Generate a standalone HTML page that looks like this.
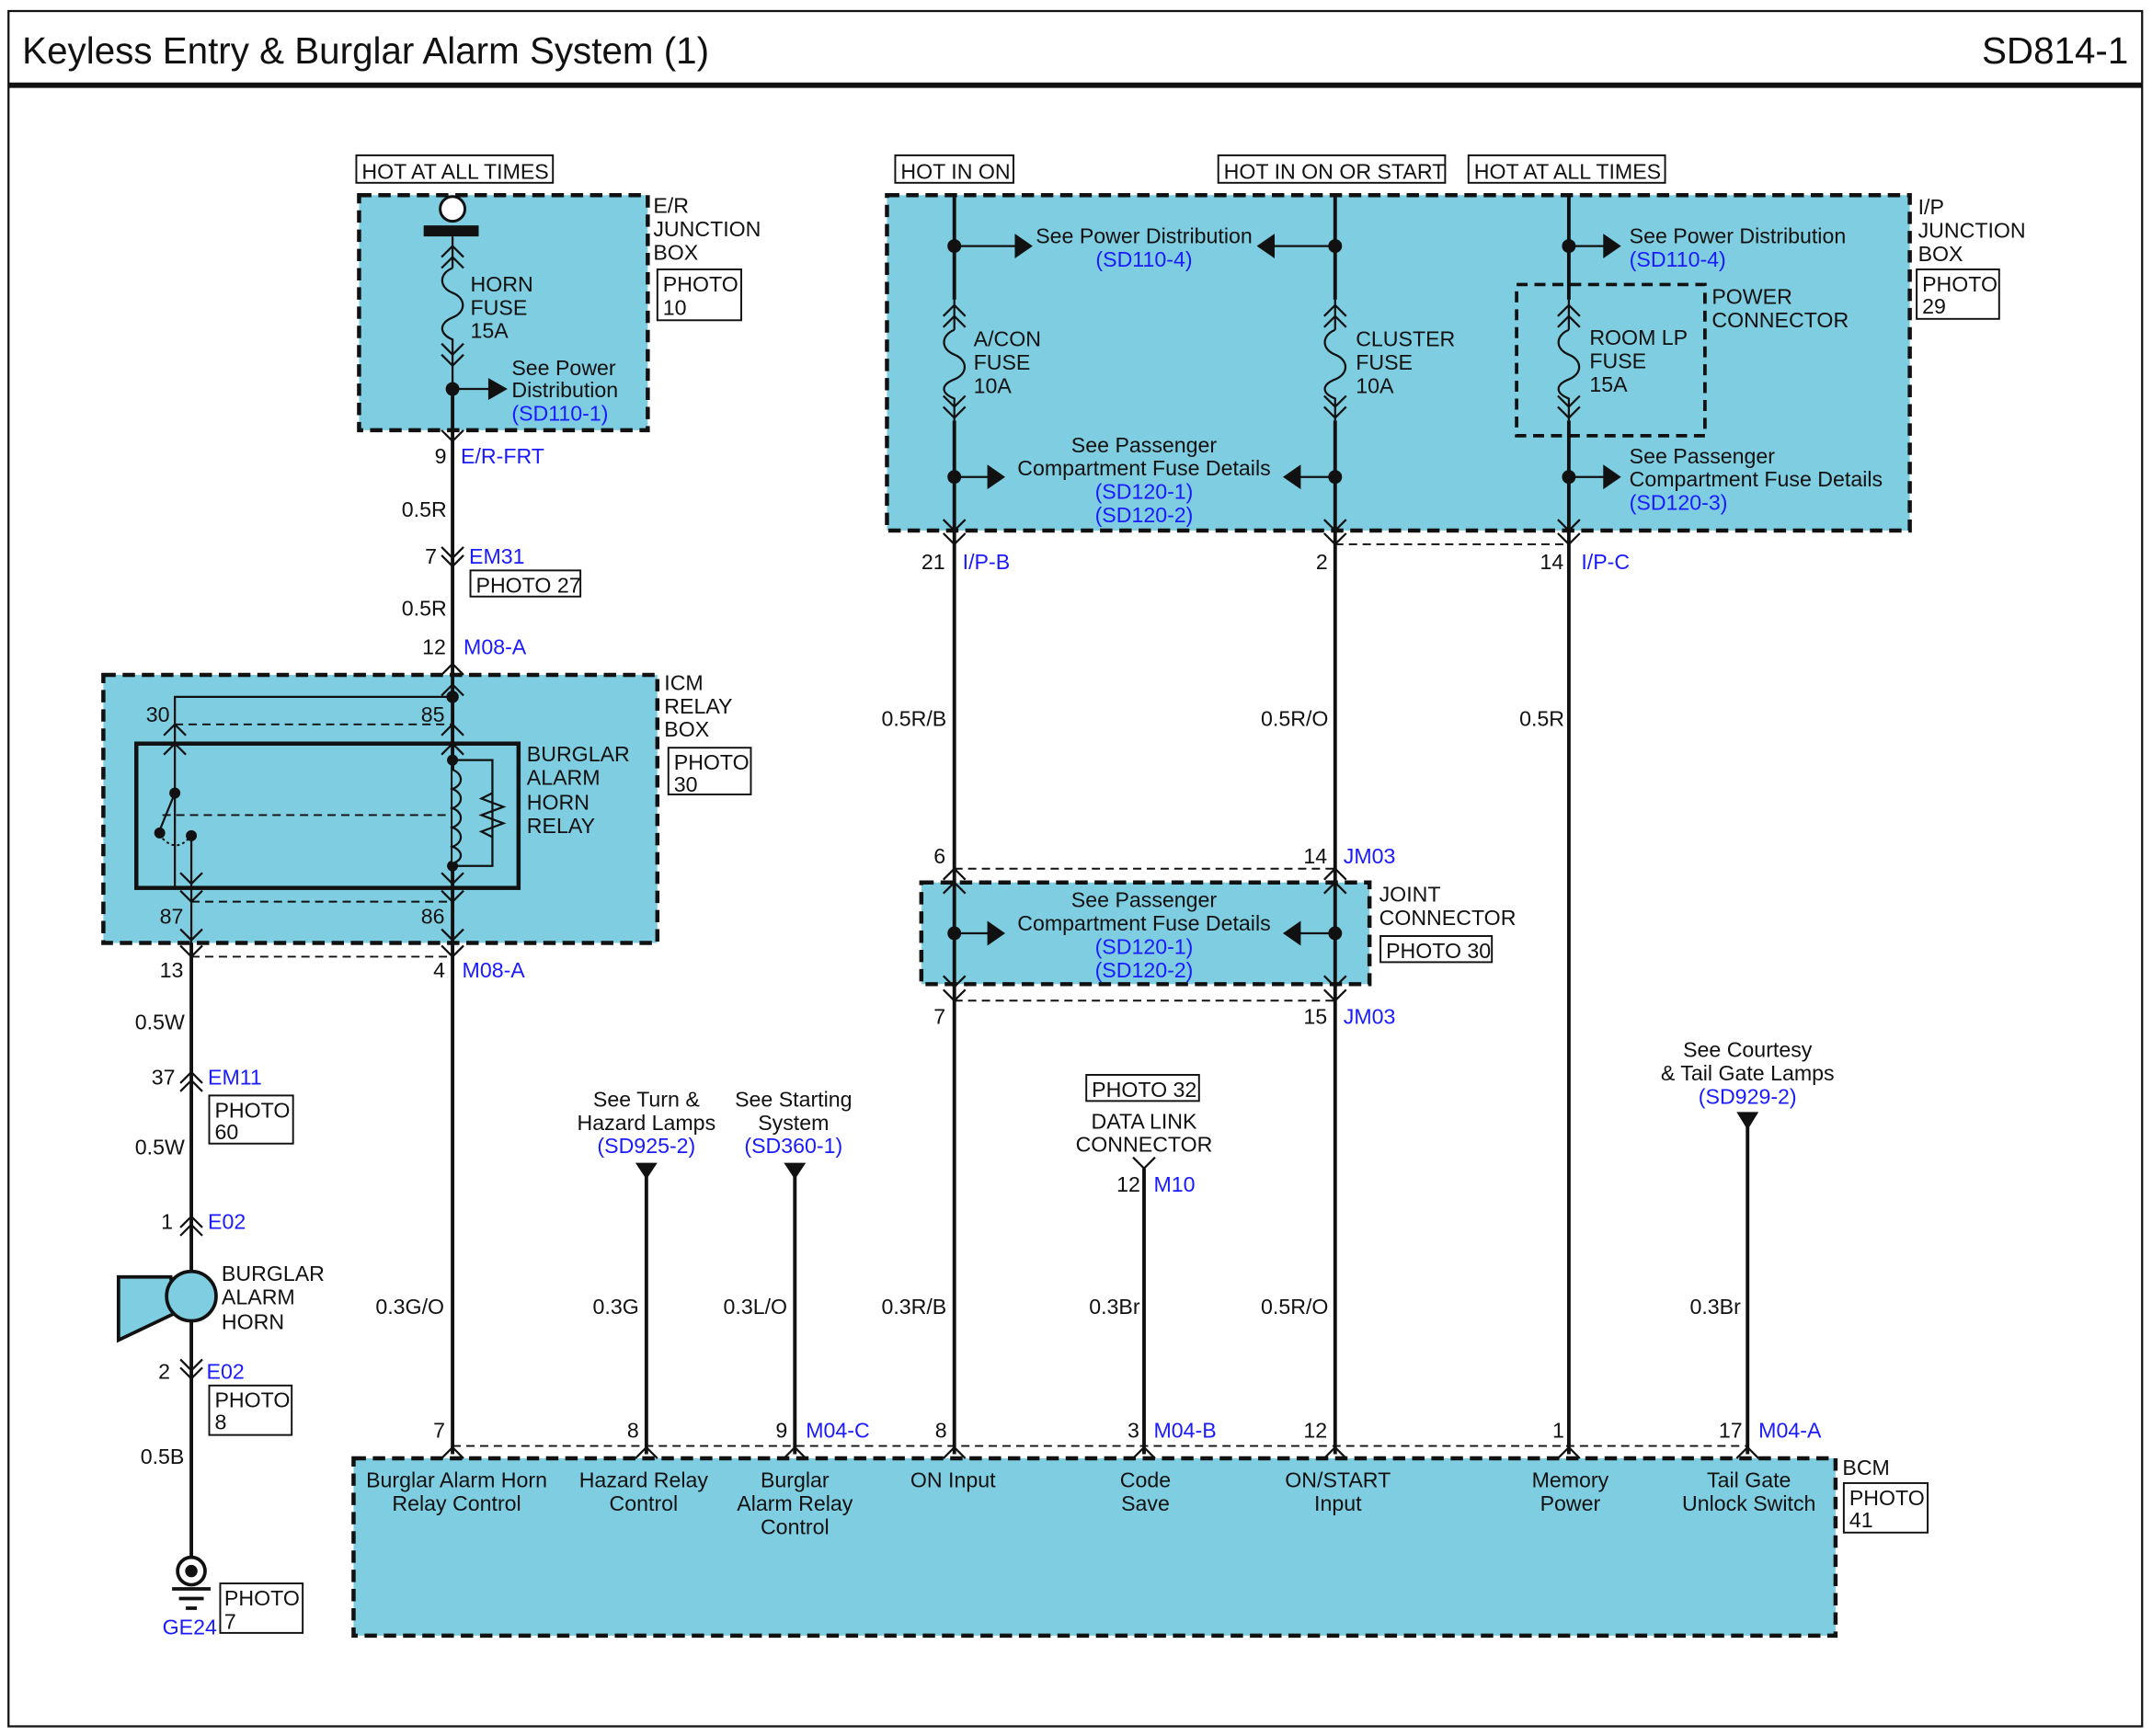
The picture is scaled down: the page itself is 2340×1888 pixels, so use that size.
<!DOCTYPE html>
<html><head><meta charset="utf-8"><style>
html,body{margin:0;padding:0;background:#fff}
svg{display:block}
text{font-family:"Liberation Sans",Arial,sans-serif;font-size:15.5px;fill:#111}
.b{fill:#1a1aff}
.box{fill:#7ecde0;stroke:#111;stroke-width:3;stroke-dasharray:9 5}
.w{stroke:#111;stroke-width:2.6;fill:none}
.t{stroke:#111;stroke-width:1.5;fill:none}
.d{stroke:#111;stroke-width:1.3;fill:none;stroke-dasharray:6 4}
.pb{fill:#fff;stroke:#111;stroke-width:1.3}
.pbn{fill:none;stroke:#111;stroke-width:1.3}
</style></head><body>
<svg width="2340" height="1888" viewBox="0 0 1565 1263" xmlns="http://www.w3.org/2000/svg">
<rect x="0" y="0" width="1565" height="1263" fill="#fff"/>
<!-- frame -->
<path d="M6 8 H1558 V1256 H6 Z" fill="none" stroke="#111" stroke-width="1.5"/>
<line x1="6" y1="62" x2="1558" y2="62" stroke="#111" stroke-width="4"/>
<text x="16" y="46" style="font-size:27px">Keyless Entry &amp; Burglar Alarm System (1)</text>
<text x="1548" y="46" text-anchor="end" style="font-size:27px">SD814-1</text>

<!-- boxes -->
<rect class="box" x="261" y="142" width="210" height="171"/>
<rect class="box" x="75" y="491" width="403" height="195"/>
<rect class="box" x="645" y="142" width="744" height="244"/>
<rect class="box" x="670" y="642" width="326" height="74"/>
<rect class="box" x="257" y="1061" width="1078" height="129"/>
<rect x="1103" y="207" width="137" height="110" fill="none" stroke="#111" stroke-width="2.5" stroke-dasharray="8 5"/>
<rect x="99" y="541" width="278" height="105" fill="none" stroke="#111" stroke-width="3"/>

<!-- HOT labels -->
<rect class="pb" x="259" y="113" width="143" height="20"/><text x="263" y="130">HOT AT ALL TIMES</text>
<rect class="pb" x="651" y="113" width="86" height="20"/><text x="655" y="130">HOT IN ON</text>
<rect class="pb" x="886" y="113" width="165" height="20"/><text x="890" y="130">HOT IN ON OR START</text>
<rect class="pb" x="1068" y="113" width="143" height="20"/><text x="1072" y="130">HOT AT ALL TIMES</text>

<!-- E/R junction box -->
<circle cx="329" cy="152" r="9" fill="#fff" stroke="#111" stroke-width="2"/>
<rect x="308" y="164" width="40" height="8" fill="#111"/>
<path class="t" d="M329 172 V195 M321 187 L329 179 L337 187 M321 195 L329 187 L337 195"/>
<path class="t" d="M329 195 c-10 4 -10 14 0 18 c10 4 10 14 0 18 c-10 4 -10 12 0 16 V283"/>
<path class="t" d="M321 250 L329 258 L337 250 M321 258 L329 266 L337 258"/>
<circle cx="329" cy="283" r="5" fill="#111"/>
<line class="t" x1="329" y1="283" x2="356" y2="283"/><path d="M355 275 L369 283 L355 291Z" fill="#111"/>
<text x="342" y="212">HORN</text><text x="342" y="229">FUSE</text><text x="342" y="246">15A</text>
<text x="372" y="273">See Power</text><text x="372" y="289">Distribution</text><text class="b" x="372" y="306">(SD110-1)</text>
<text x="475" y="155">E/R</text><text x="475" y="172">JUNCTION</text><text x="475" y="189">BOX</text>
<rect class="pb" x="478" y="196" width="61" height="37"/><text x="482" y="212">PHOTO</text><text x="482" y="229">10</text>

<!-- main wire x=329 -->
<line class="w" x1="329" y1="283" x2="329" y2="1058"/>
<path class="t" d="M321 313 L329 321 L337 313"/>
<text x="316" y="337">9</text><text class="b" x="335" y="337">E/R-FRT</text>
<text x="292" y="376">0.5R</text>
<path class="t" d="M321 398 L329 406 L337 398 M321 404 L329 412 L337 404"/>
<text x="309" y="410">7</text><text class="b" x="341" y="410">EM31</text>
<rect class="pb" x="342" y="415" width="80" height="19"/><text x="346" y="431">PHOTO 27</text>
<text x="292" y="448">0.5R</text>
<text x="307" y="476">12</text><text class="b" x="337" y="476">M08-A</text>
<path class="t" d="M321 491 L329 483 L337 491"/>

<!-- ICM relay -->
<text x="483" y="502">ICM</text><text x="483" y="519">RELAY</text><text x="483" y="536">BOX</text>
<rect class="pb" x="486" y="544" width="60" height="34"/><text x="490" y="560">PHOTO</text><text x="490" y="576">30</text>
<circle cx="329" cy="507" r="4.5" fill="#111"/>
<path class="t" d="M329 507 H127 V646"/>
<path class="t" d="M321 506 L329 498 L337 506 M119 535 L127 527 L135 535 M321 535 L329 527 L337 535 M119 549 L127 541 L135 549 M321 549 L329 541 L337 549"/>
<line class="d" x1="127" y1="527" x2="329" y2="527"/>
<text x="106" y="525">30</text><text x="306" y="525">85</text>
<circle cx="127" cy="577" r="4" fill="#111"/>
<line class="t" x1="127" y1="577" x2="116" y2="604"/>
<line class="d" x1="118" y1="593" x2="329" y2="593"/>
<circle cx="116" cy="606" r="4" fill="#111"/><circle cx="139" cy="608" r="4" fill="#111"/>
<path d="M118 610 q10 10 19 0" fill="none" stroke="#111" stroke-width="1.3" stroke-dasharray="2 2"/>
<line class="t" x1="139" y1="608" x2="139" y2="686"/>
<circle cx="329" cy="553" r="4" fill="#111"/><circle cx="329" cy="630" r="4" fill="#111"/>
<path class="t" d="M329 553 H358 V630 H329"/>
<path d="M329 560 c8 3 8 11 0 14 c8 3 8 11 0 14 c8 3 8 11 0 14 c8 3 8 11 0 14 c8 3 8 10 0 12" fill="#7ecde0" stroke="#111" stroke-width="1.5"/>
<path class="t" d="M358 577 L350 581 L366 587 L350 593 L366 599 L350 605 L358 609"/>
<path class="t" d="M131 635 L139 643 L147 635 M321 635 L329 643 L337 635 M131 648 L139 656 L147 648 M321 648 L329 656 L337 648 M131 676 L139 684 L147 676 M321 676 L329 684 L337 676"/>
<line class="d" x1="139" y1="656" x2="329" y2="656"/>
<text x="116" y="672">87</text><text x="306" y="672">86</text>
<text x="383" y="554">BURGLAR</text><text x="383" y="571">ALARM</text><text x="383" y="589">HORN</text><text x="383" y="606">RELAY</text>
<path class="t" d="M131 688 L139 696 L147 688 M321 688 L329 696 L337 688"/>
<line class="d" x1="139" y1="696" x2="329" y2="696"/>
<text x="116" y="711">13</text><text x="315" y="711">4</text><text class="b" x="336" y="711">M08-A</text>

<!-- left horn wire -->
<line class="w" x1="139" y1="686" x2="139" y2="1135"/>
<text x="98" y="749">0.5W</text>
<path class="t" d="M131 788 L139 780 L147 788 M131 794 L139 786 L147 794"/>
<text x="110" y="789">37</text><text class="b" x="151" y="789">EM11</text>
<rect class="pb" x="152" y="797" width="61" height="35"/><text x="156" y="813">PHOTO</text><text x="156" y="829">60</text>
<text x="98" y="840">0.5W</text>
<path class="t" d="M131 893 L139 885 L147 893 M131 899 L139 891 L147 899"/>
<text x="117" y="894">1</text><text class="b" x="151" y="894">E02</text>
<path d="M86 929 L124 929 L128 955 L86 975 Z" fill="#7ecde0" stroke="#111" stroke-width="2.5"/>
<circle cx="139" cy="943" r="18" fill="#7ecde0" stroke="#111" stroke-width="2.5"/>
<text x="161" y="932">BURGLAR</text><text x="161" y="949">ALARM</text><text x="161" y="967">HORN</text>
<path class="t" d="M131 989 L139 997 L147 989 M131 995 L139 1003 L147 995"/>
<text x="115" y="1003">2</text><text class="b" x="150" y="1003">E02</text>
<rect class="pb" x="152" y="1008" width="60" height="36"/><text x="156" y="1024">PHOTO</text><text x="156" y="1040">8</text>
<text x="102" y="1065">0.5B</text>
<circle cx="139" cy="1143" r="10" fill="#fff" stroke="#111" stroke-width="2.5"/><circle cx="139" cy="1143" r="4.5" fill="#111"/>
<path d="M125 1156 H153 M130 1163 H148 M135 1170 H143" stroke="#111" stroke-width="2.5"/>
<text class="b" x="118" y="1189">GE24</text>
<rect class="pb" x="160" y="1152" width="60" height="36"/><text x="163" y="1168">PHOTO</text><text x="163" y="1185">7</text>

<!-- I/P junction -->
<text x="1395" y="156">I/P</text><text x="1395" y="173">JUNCTION</text><text x="1395" y="190">BOX</text>
<rect class="pb" x="1394" y="196" width="60" height="36"/><text x="1398" y="212">PHOTO</text><text x="1398" y="228">29</text>
<line class="w" x1="694" y1="142" x2="694" y2="1058"/>
<line class="w" x1="971" y1="142" x2="971" y2="1058"/>
<line class="w" x1="1141" y1="142" x2="1141" y2="1058"/>
<g>
<path d="M687 218 h14 v88 h-14z M964 218 h14 v88 h-14z M1134 218 h14 v88 h-14z" fill="#7ecde0"/>
<path class="t" d="M694 218 V240 M686 230 L694 222 L702 230 M686 238 L694 230 L702 238 M694 240 c-10 4 -10 14 0 18 c10 4 10 14 0 18 c-10 4 -10 10 0 14 V306 M686 288 L694 296 L702 288 M686 296 L694 304 L702 296"/>
<path class="t" d="M971 218 V240 M963 230 L971 222 L979 230 M963 238 L971 230 L979 238 M971 240 c-10 4 -10 14 0 18 c10 4 10 14 0 18 c-10 4 -10 10 0 14 V306 M963 288 L971 296 L979 288 M963 296 L971 304 L979 296"/>
<path class="t" d="M1141 218 V240 M1133 230 L1141 222 L1149 230 M1133 238 L1141 230 L1149 238 M1141 240 c-10 4 -10 14 0 18 c10 4 10 14 0 18 c-10 4 -10 10 0 14 V306 M1133 288 L1141 296 L1149 288 M1133 296 L1141 304 L1149 296"/>
</g>
<text x="708" y="252">A/CON</text><text x="708" y="269">FUSE</text><text x="708" y="286">10A</text>
<text x="986" y="252">CLUSTER</text><text x="986" y="269">FUSE</text><text x="986" y="286">10A</text>
<text x="1156" y="251">ROOM LP</text><text x="1156" y="268">FUSE</text><text x="1156" y="285">15A</text>
<text x="1245" y="221">POWER</text><text x="1245" y="238">CONNECTOR</text>
<!-- dots/arrows -->
<circle cx="694" cy="179" r="5" fill="#111"/><line class="t" x1="694" y1="179" x2="740" y2="179"/><path d="M738 170 L751 179 L738 188Z" fill="#111"/>
<circle cx="971" cy="179" r="5" fill="#111"/><line class="t" x1="971" y1="179" x2="925" y2="179"/><path d="M927 170 L914 179 L927 188Z" fill="#111"/>
<text x="832" y="177" text-anchor="middle">See Power Distribution</text><text class="b" x="832" y="194" text-anchor="middle">(SD110-4)</text>
<circle cx="1141" cy="179" r="5" fill="#111"/><line class="t" x1="1141" y1="179" x2="1168" y2="179"/><path d="M1166 170 L1179 179 L1166 188Z" fill="#111"/>
<text x="1185" y="177">See Power Distribution</text><text class="b" x="1185" y="194">(SD110-4)</text>
<circle cx="694" cy="347" r="5" fill="#111"/><line class="t" x1="694" y1="347" x2="720" y2="347"/><path d="M718 338 L731 347 L718 356Z" fill="#111"/>
<circle cx="971" cy="347" r="5" fill="#111"/><line class="t" x1="971" y1="347" x2="944" y2="347"/><path d="M946 338 L933 347 L946 356Z" fill="#111"/>
<text x="832" y="329" text-anchor="middle">See Passenger</text><text x="832" y="346" text-anchor="middle">Compartment Fuse Details</text>
<text class="b" x="832" y="363" text-anchor="middle">(SD120-1)</text><text class="b" x="832" y="380" text-anchor="middle">(SD120-2)</text>
<circle cx="1141" cy="347" r="5" fill="#111"/><line class="t" x1="1141" y1="347" x2="1168" y2="347"/><path d="M1166 338 L1179 347 L1166 356Z" fill="#111"/>
<text x="1185" y="337">See Passenger</text><text x="1185" y="354">Compartment Fuse Details</text><text class="b" x="1185" y="371">(SD120-3)</text>
<path class="t" d="M686 378 L694 386 L702 378 M963 378 L971 386 L979 378 M1133 378 L1141 386 L1149 378 M686 388 L694 396 L702 388 M963 388 L971 396 L979 388 M1133 388 L1141 396 L1149 388"/>
<line class="d" x1="971" y1="396" x2="1141" y2="396"/>
<text x="670" y="414">21</text><text class="b" x="700" y="414">I/P-B</text>
<text x="957" y="414">2</text>
<text x="1120" y="414">14</text><text class="b" x="1150" y="414">I/P-C</text>
<text x="641" y="528">0.5R/B</text><text x="917" y="528">0.5R/O</text><text x="1105" y="528">0.5R</text>

<!-- joint connector -->
<path class="t" d="M686 640 L694 632 L702 640 M963 640 L971 632 L979 640 M686 650 L694 642 L702 650 M963 650 L971 642 L979 650"/>
<line class="d" x1="694" y1="632" x2="971" y2="632"/>
<text x="679" y="628">6</text><text x="948" y="628">14</text><text class="b" x="977" y="628">JM03</text>
<text x="1003" y="656">JOINT</text><text x="1003" y="673">CONNECTOR</text>
<rect class="pb" x="1004" y="681" width="81" height="19"/><text x="1008" y="697">PHOTO 30</text>
<circle cx="694" cy="679" r="5" fill="#111"/><line class="t" x1="694" y1="679" x2="720" y2="679"/><path d="M718 670 L731 679 L718 688Z" fill="#111"/>
<circle cx="971" cy="679" r="5" fill="#111"/><line class="t" x1="971" y1="679" x2="944" y2="679"/><path d="M946 670 L933 679 L946 688Z" fill="#111"/>
<text x="832" y="660" text-anchor="middle">See Passenger</text><text x="832" y="677" text-anchor="middle">Compartment Fuse Details</text>
<text class="b" x="832" y="694" text-anchor="middle">(SD120-1)</text><text class="b" x="832" y="711" text-anchor="middle">(SD120-2)</text>
<path class="t" d="M686 710 L694 718 L702 710 M963 710 L971 718 L979 710 M686 720 L694 728 L702 720 M963 720 L971 728 L979 720"/>
<line class="d" x1="694" y1="728" x2="971" y2="728"/>
<text x="679" y="745">7</text><text x="948" y="745">15</text><text class="b" x="977" y="745">JM03</text>

<!-- lower branches -->
<line class="w" x1="470" y1="850" x2="470" y2="1058"/><path d="M462 846 H478 L470 858Z" fill="#111"/>
<line class="w" x1="578" y1="850" x2="578" y2="1058"/><path d="M570 846 H586 L578 858Z" fill="#111"/>
<line class="w" x1="1271" y1="812" x2="1271" y2="1058"/><path d="M1263 809 H1279 L1271 822Z" fill="#111"/>
<line class="w" x1="832" y1="850" x2="832" y2="1058"/><path class="t" d="M824 842 L832 850 L840 842"/>
<text x="470" y="805" text-anchor="middle">See Turn &amp;</text><text x="470" y="822" text-anchor="middle">Hazard Lamps</text><text class="b" x="470" y="839" text-anchor="middle">(SD925-2)</text>
<text x="577" y="805" text-anchor="middle">See Starting</text><text x="577" y="822" text-anchor="middle">System</text><text class="b" x="577" y="839" text-anchor="middle">(SD360-1)</text>
<rect class="pb" x="790" y="782" width="82" height="19"/><text x="794" y="798">PHOTO 32</text>
<text x="832" y="821" text-anchor="middle">DATA LINK</text><text x="832" y="838" text-anchor="middle">CONNECTOR</text>
<text x="812" y="867">12</text><text class="b" x="839" y="867">M10</text>
<text x="1271" y="769" text-anchor="middle">See Courtesy</text><text x="1271" y="786" text-anchor="middle">&amp; Tail Gate Lamps</text><text class="b" x="1271" y="803" text-anchor="middle">(SD929-2)</text>
<text x="273" y="956">0.3G/O</text><text x="431" y="956">0.3G</text><text x="526" y="956">0.3L/O</text>
<text x="641" y="956">0.3R/B</text><text x="792" y="956">0.3Br</text><text x="917" y="956">0.5R/O</text><text x="1229" y="956">0.3Br</text>

<!-- BCM connectors -->
<path class="t" d="M321 1061 L329 1053 L337 1061 M462 1061 L470 1053 L478 1061 M570 1061 L578 1053 L586 1061 M686 1061 L694 1053 L702 1061 M824 1061 L832 1053 L840 1061 M963 1061 L971 1053 L979 1061 M1133 1061 L1141 1053 L1149 1061 M1263 1061 L1271 1053 L1279 1061"/>
<line class="d" x1="329" y1="1052" x2="1271" y2="1052"/>
<text x="315" y="1046">7</text><text x="456" y="1046">8</text><text x="564" y="1046">9</text><text class="b" x="586" y="1046">M04-C</text>
<text x="680" y="1046">8</text><text x="820" y="1046">3</text><text class="b" x="839" y="1046">M04-B</text>
<text x="948" y="1046">12</text><text x="1129" y="1046">1</text><text x="1250" y="1046">17</text><text class="b" x="1279" y="1046">M04-A</text>
<text x="1340" y="1073">BCM</text>
<rect class="pb" x="1341" y="1079" width="61" height="36"/><text x="1345" y="1095">PHOTO</text><text x="1345" y="1111">41</text>
<g text-anchor="middle">
<text x="332" y="1082">Burglar Alarm Horn</text><text x="332" y="1099">Relay Control</text>
<text x="468" y="1082">Hazard Relay</text><text x="468" y="1099">Control</text>
<text x="578" y="1082">Burglar</text><text x="578" y="1099">Alarm Relay</text><text x="578" y="1116">Control</text>
<text x="693" y="1082">ON Input</text>
<text x="833" y="1082">Code</text><text x="833" y="1099">Save</text>
<text x="973" y="1082">ON/START</text><text x="973" y="1099">Input</text>
<text x="1142" y="1082">Memory</text><text x="1142" y="1099">Power</text>
<text x="1272" y="1082">Tail Gate</text><text x="1272" y="1099">Unlock Switch</text>
</g>
</svg>
</body></html>
